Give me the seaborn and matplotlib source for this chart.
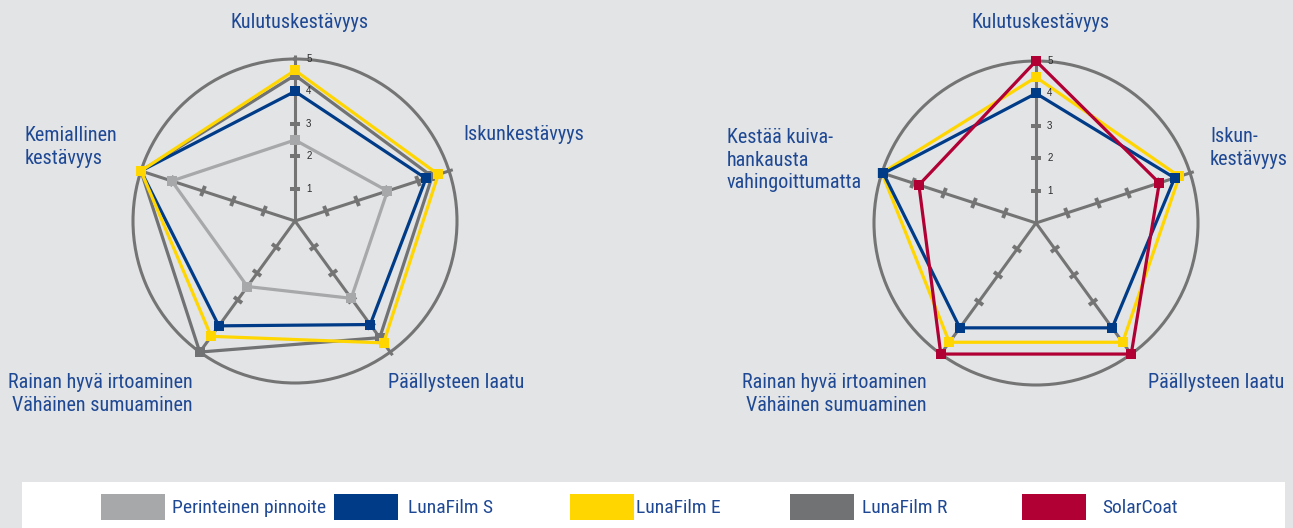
import numpy as np
import pandas as pd
import seaborn as sns
import matplotlib.pyplot as plt
from matplotlib import font_manager
from matplotlib.patches import Rectangle
from matplotlib.markers import MarkerStyle
from matplotlib.transforms import Affine2D

# left chart
left_axes = ["Kulutuskestävyys", "Iskunkestävyys", "Päällysteen laatu",
             "Rainan hyvä irtoaminen\nVähäinen sumuaminen", "Kemiallinen\nkestävyys"]
perinteinen = [2.5, 3.0, 2.95, 2.5, 4.0]
lunafilm_r = [4.5, 4.45, 4.45, 5.0, 5.0]
lunafilm_s_left = [4.0, 4.25, 3.95, 4.0, 5.0]
lunafilm_e_left = [4.65, 4.65, 4.65, 4.4, 5.0]

# right chart
right_axes = ["Kulutuskestävyys", "Iskun-\nkestävyys", "Päällysteen laatu",
              "Rainan hyvä irtoaminen\nVähäinen sumuaminen",
              "Kestää kuiva-\nhankausta\nvahingoittumatta"]
lunafilm_e_right = [4.5, 4.65, 4.55, 4.55, 5.0]
lunafilm_s_right = [4.0, 4.5, 4.0, 4.0, 4.95]
solarcoat = [5.0, 4.0, 5.0, 5.0, 3.8]

scale_ticks = [1, 2, 3, 4, 5]

series_names = ["Perinteinen pinnoite", "LunaFilm S", "LunaFilm E", "LunaFilm R", "SolarCoat"]
colors = {"Perinteinen pinnoite": "#a7a8aa", "LunaFilm S": "#003b88",
          "LunaFilm E": "#ffd600", "LunaFilm R": "#717273", "SolarCoat": "#b00034"}

W, H = 1293, 528
bg = "#e2e4e6"
axis_col = "#747474"
txt_col = "#1e4894"

sns.set_theme(style="white")
plt.rcParams["font.family"] = ["Liberation Sans", "DejaVu Sans"]

# look for a narrow/condensed sans face, the labels use one
narrow = None
for f in font_manager.fontManager.ttflist:
    fn = f.fname.lower()
    if ("narrow" in fn or "condensed" in fn) and "bold" not in fn and "italic" not in fn \
            and "oblique" not in fn and "light" not in fn and "mono" not in fn and "serif" not in fn:
        narrow = f.fname
        if "liberation" in fn:
            break
if narrow:
    lab_font = dict(fontproperties=font_manager.FontProperties(fname=narrow))
    fs, leg_fs = 14.5, 14
else:
    lab_font = dict(family=["Roboto", "DejaVu Sans"])
    fs, leg_fs = 13, 12.5

fig = plt.figure(figsize=(W / 100, H / 100), dpi=100)
fig.patch.set_facecolor(bg)


def to_long(series):
    n = len(next(iter(series.values())))
    theta = list(np.linspace(0, 2 * np.pi, n, endpoint=False)) + [2 * np.pi]
    rows = []
    for name, vals in series.items():
        closed = list(vals) + [vals[0]]
        for t, v in zip(theta, closed):
            rows.append({"theta": t, "value": v, "series": name})
    return pd.DataFrame(rows)


def radar(rect, series):
    ax = fig.add_axes(rect, projection="polar")
    ax.set_facecolor("none")
    ax.set_theta_zero_location("N")
    ax.set_theta_direction(-1)
    n = len(next(iter(series.values())))
    angles = np.linspace(0, 2 * np.pi, n, endpoint=False)
    # spokes with small cross ticks
    for a in angles:
        ax.plot([a, a], [0, 5.12], color=axis_col, lw=2.2, zorder=1,
                solid_capstyle="butt", clip_on=False)
        m = MarkerStyle("_", transform=Affine2D().rotate_deg(-np.degrees(a)))
        ax.plot([a] * 4, scale_ticks[:4], ls="none", marker=m, ms=7,
                mew=2.8, color=axis_col, zorder=1)
    df = to_long(series)
    sns.lineplot(data=df, x="theta", y="value", hue="series",
                 hue_order=list(series.keys()), palette=colors, sort=False,
                 estimator=None, marker="s", markersize=6.5, markeredgewidth=0,
                 lw=2.3, legend=False, ax=ax, clip_on=False, zorder=3)
    for r in scale_ticks:
        ax.annotate(str(r), (0, r), xytext=(8, 0), textcoords="offset points",
                    fontsize=7, color="#2a2a2a", va="center", ha="left")
    ax.set_ylim(0, 5)
    ax.set_xticks([])
    ax.set_yticks([])
    ax.grid(False)
    ax.set_xlabel("")
    ax.set_ylabel("")
    ax.spines["polar"].set_color(axis_col)
    ax.spines["polar"].set_linewidth(2.2)
    return ax


def px(x, y):
    return x / W, 1 - y / H


rw, rh = 324 / W, 324 / H
radar([295 / W - rw / 2, 1 - 221 / H - rh / 2, rw, rh],
      {"Perinteinen pinnoite": perinteinen, "LunaFilm R": lunafilm_r,
       "LunaFilm S": lunafilm_s_left, "LunaFilm E": lunafilm_e_left})
radar([1036 / W - rw / 2, 1 - 223 / H - rh / 2, rw, rh],
      {"LunaFilm E": lunafilm_e_right, "LunaFilm S": lunafilm_s_right,
       "SolarCoat": solarcoat})

lab = dict(fontsize=fs, color=txt_col, linespacing=1.25, **lab_font)
# left labels
fig.text(*px(300, 22), left_axes[0], ha="center", va="center", **lab)
fig.text(*px(463, 135), left_axes[1], ha="left", va="center", **lab)
fig.text(*px(388, 382), left_axes[2], ha="left", va="center", **lab)
fig.text(*px(193, 394), left_axes[3], ha="right", va="center", multialignment="right", **lab)
fig.text(*px(25, 147), left_axes[4], ha="left", va="center", **lab)
# right labels
fig.text(*px(1041, 22), right_axes[0], ha="center", va="center", **lab)
fig.text(*px(1210, 148), right_axes[1], ha="left", va="center", **lab)
fig.text(*px(1148, 382), right_axes[2], ha="left", va="center", **lab)
fig.text(*px(927, 394), right_axes[3], ha="right", va="center", multialignment="right", **lab)
fig.text(*px(727, 160), right_axes[4], ha="left", va="center", **lab)

# legend strip
fig.add_artist(Rectangle(px(22, 528), 1263 / W, 46 / H, transform=fig.transFigure,
                         facecolor="white", edgecolor="none"))
legend_x = [101, 334, 570, 790, 1022]
text_x = [172, 408, 636, 862, 1102]
for name, x0, tx in zip(series_names, legend_x, text_x):
    fig.add_artist(Rectangle(px(x0, 520), 64 / W, 26 / H, transform=fig.transFigure,
                             facecolor=colors[name], edgecolor="none"))
    fig.text(*px(tx, 508), name, ha="left", va="center", fontsize=leg_fs,
             color=txt_col, **lab_font)

fig.savefig("out.png", dpi=100, facecolor=bg)
